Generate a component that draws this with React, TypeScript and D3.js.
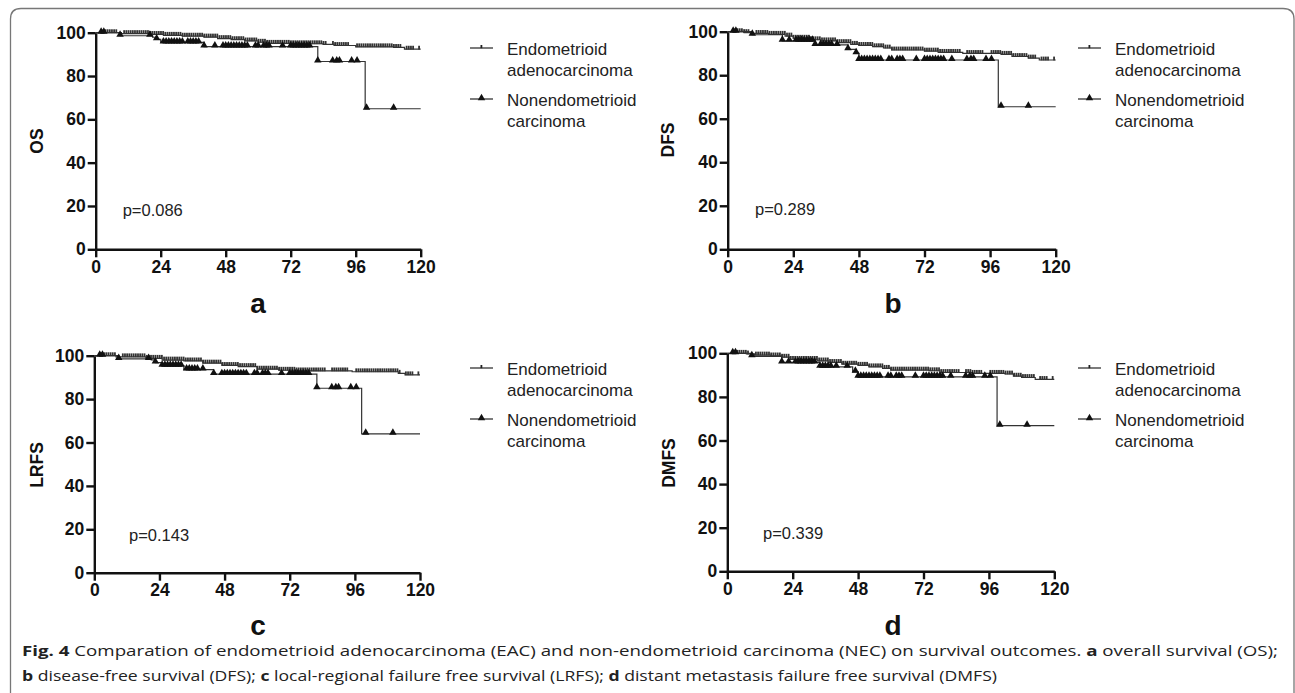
import React, { useEffect, useRef } from 'react';
import * as d3 from 'd3';

// ---------- data ----------
const xTicks = [0, 24, 48, 72, 96, 120];
const yTicks = [0, 20, 40, 60, 80, 100];
const eacLabel = ['Endometrioid', 'adenocarcinoma'];
const necLabel = ['Nonendometrioid', 'carcinoma'];

// Kaplan-Meier steps: [month, survival %]
const osEAC: [number, number][] = [[0, 100], [9.5, 99.6], [20, 99.2], [25, 98.8], [32, 98.4], [40, 98], [45, 97.3], [50, 96.8], [55, 96.2], [60, 95.6], [63, 95.1], [72, 94.9], [84, 94.6], [88, 94.1], [96, 93.5], [110, 93.2], [114, 92.4]];
const osNEC: [number, number][] = [[0, 100], [9, 98.6], [21, 97.9], [22.5, 96.9], [24, 95.5], [40, 93.6], [82, 86.7], [99.5, 64.9]];
const dfsEAC: [number, number][] = [[0, 100], [6, 99.6], [9, 99.2], [15, 98.8], [21, 98], [24, 97], [30, 96.3], [34, 95.8], [40, 95], [45, 94.2], [48, 93.7], [53, 93.1], [57, 92.5], [60, 91.6], [72, 91.1], [77, 90.5], [86, 90], [100, 89.6], [104, 88.6], [110, 87.9], [114, 87]];
const dfsNEC: [number, number][] = [[0, 100], [9, 98.6], [20, 95.8], [32, 93.9], [44, 91.9], [47, 90.1], [48, 87], [99, 65.5]];
const lrfsEAC: [number, number][] = [[0, 100], [8, 99.5], [19, 98.8], [25, 98], [33, 97.6], [40, 96.6], [47, 95.5], [53, 95], [60, 93.8], [68, 93.3], [74, 93], [95, 92.6], [112, 91.9], [114.5, 91.2]];
const lrfsNEC: [number, number][] = [[0, 100], [9, 98.5], [21, 98.1], [22.5, 96.8], [25, 95.4], [33, 93.6], [44, 91.5], [82, 85], [98.5, 64]];
const dmfsEAC: [number, number][] = [[0, 100], [7, 99.7], [10, 99.2], [16, 98.8], [20, 98.2], [23, 97.2], [33, 96.5], [37, 95.8], [42, 95], [48, 94.5], [52, 93.8], [57, 93.1], [60, 92.3], [74, 92], [78, 91.2], [90, 90.8], [102, 90.5], [105, 89.5], [108, 88.9], [113, 88]];
const dmfsNEC: [number, number][] = [[0, 100], [9, 98.6], [20, 95.8], [34, 93.8], [46, 91.5], [48, 89.2], [99, 66.8]];

// censoring times (months)
const eacCensor = [2, 2.8, 3.6, 4.4, 5.2, 6, 6.8, 7.6, 10.5, 11.3, 12.1, 12.9, 13.7, 14.5, 15.3, 16.1, 16.9, 17.7, 18.5, 19.3, 20.1, 20.9, 21.7, 22.5, 23.3, 24.1, 24.9, 25.7, 26.5, 27.3, 28.1, 28.9, 29.7, 30.5, 31.3, 32.1, 32.9, 33.7, 34.5, 35.3, 36.1, 36.9, 37.7, 38.5, 39.3, 40.1, 40.9, 41.7, 42.5, 43.3, 44.1, 44.9, 45.7, 46.5, 47.3, 48.1, 48.9, 49.7, 50.5, 51.3, 52.1, 52.9, 53.7, 54.5, 55.3, 56.1, 56.9, 57.7, 58.5, 59.3, 60.1, 60.9, 61.7, 62.5, 63.3, 64.1, 64.9, 65.7, 66.5, 67.3, 68.1, 68.9, 69.7, 70.5, 71.3, 72.1, 72.9, 73.7, 74.5, 75.3, 76.1, 76.9, 77.7, 78.5, 79.3, 80.1, 80.9, 81.7, 82.5, 83.3, 84.1, 84.9, 87.6, 88.4, 89.2, 90, 90.8, 91.6, 92.4, 93.2, 96.5, 97.3, 98.1, 98.9, 99.7, 100.5, 101.3, 102.1, 102.9, 103.7, 104.5, 105.3, 106.1, 106.9, 107.7, 108.5, 109.3, 110.1, 110.9, 111.7, 112.5, 114.8, 115.6, 116.4, 117.2, 119.4];
const necCensor = [2, 3, 9, 20, 22.5, 25, 26, 27, 28, 29, 30, 31, 32, 34, 35, 36, 37, 38, 40, 44, 47, 48, 49, 50, 51, 52, 53, 54, 55, 56, 59, 60, 62, 63, 64, 69, 72, 73, 74, 75, 76, 77, 78, 79, 82, 87.5, 89, 90, 94.5, 96.5, 100, 110];

const panelIds = ['a', 'b', 'c', 'd'];
const yTitles = ['OS', 'DFS', 'LRFS', 'DMFS'];
const pValues = ['p=0.086', 'p=0.289', 'p=0.143', 'p=0.339'];
const eacSeries = [osEAC, dfsEAC, lrfsEAC, dmfsEAC];
const necSeries = [osNEC, dfsNEC, lrfsNEC, dmfsNEC];

// ---------- layout ----------
const layout = [
  { x0: 95.7, x1: 420.7, yTop: 32.7, yBot: 249.3, titleX: 37, titleY: 141, pX: 122.7, pY: 216, legX: 470, legY: 48, labX: 258, labY: 313 },
  { x0: 727.7, x1: 1055.7, yTop: 31.7, yBot: 249.3, titleX: 668, titleY: 140, pX: 755, pY: 215, legX: 1078, legY: 48, labX: 893, labY: 313 },
  { x0: 94.3, x1: 420, yTop: 355.7, yBot: 572.7, titleX: 37, titleY: 465, pX: 129, pY: 540.7, legX: 470, legY: 368, labX: 258, labY: 635 },
  { x0: 727.3, x1: 1054.3, yTop: 353.3, yBot: 571.3, titleX: 669, titleY: 463, pX: 763, pY: 539, legX: 1078, legY: 368, labX: 893, labY: 635 },
];

const W = 1295;
const H = 693;
const FONT = "'Liberation Sans', Arial, Helvetica, sans-serif";

function stepValue(steps: [number, number][], t: number) {
  let v = steps[0][1];
  for (const [tt, s] of steps) {
    if (tt <= t) v = s;
  }
  return v;
}

export default function App() {
  const ref = useRef<SVGSVGElement>(null);

  useEffect(() => {
    const svg = d3.select(ref.current);
    svg.selectAll('*').remove();

    // frame
    svg.append('path')
      .attr('d', `M10.5,${H} V19 Q10.5,8.5 21,8.5 H1283 Q1294,8.5 1294,19 V${H}`)
      .attr('fill', 'none')
      .attr('stroke', '#777')
      .attr('stroke-width', 1.3);

    layout.forEach((L, i) => {
      const g = svg.append('g');
      const x = d3.scaleLinear().domain([0, 120]).range([L.x0, L.x1]);
      const y = d3.scaleLinear().domain([0, 100]).range([L.yBot, L.yTop]);

      // axes
      const xa = g.append('g').attr('transform', `translate(0,${L.yBot})`)
        .call(d3.axisBottom(x).tickValues(xTicks).tickSize(8).tickSizeOuter(0).tickPadding(3));
      const ya = g.append('g').attr('transform', `translate(${L.x0},0)`)
        .call(d3.axisLeft(y).tickValues(yTicks).tickSize(8).tickSizeOuter(0).tickPadding(2));
      [xa, ya].forEach((a) => {
        a.select('.domain').attr('stroke', '#111').attr('stroke-width', 2.4);
        a.selectAll('.tick line').attr('stroke', '#111').attr('stroke-width', 2.4);
        a.selectAll('.tick text')
          .attr('fill', '#111')
          .style('font-family', FONT)
          .style('font-weight', 'bold')
          .style('font-size', '17.5px');
      });

      // y title
      g.append('text')
        .attr('transform', `translate(${L.titleX},${L.titleY}) rotate(-90)`)
        .attr('text-anchor', 'middle')
        .attr('dominant-baseline', 'central')
        .style('font-family', FONT).style('font-weight', 'bold').style('font-size', '17.5px')
        .attr('fill', '#111')
        .text(yTitles[i]);

      // curves
      const line = d3.line<[number, number]>()
        .x((d) => x(d[0])).y((d) => y(d[1]))
        .curve(d3.curveStepAfter);
      const eac = eacSeries[i];
      const nec = necSeries[i];
      const eacFull: [number, number][] = [...eac, [120, eac[eac.length - 1][1]]];
      const necFull: [number, number][] = [...nec, [120, nec[nec.length - 1][1]]];

      g.append('path').attr('d', line(necFull)).attr('fill', 'none').attr('stroke', '#333').attr('stroke-width', 1.2);
      g.append('path').attr('d', line(eacFull)).attr('fill', 'none').attr('stroke', '#333').attr('stroke-width', 1.2);

      // censor marks EAC
      g.append('g').selectAll('rect').data(eacCensor).join('rect')
        .attr('x', (t) => x(t) - 0.9)
        .attr('y', (t) => y(stepValue(eac, t)) - 3.4)
        .attr('width', 1.8)
        .attr('height', 3.8)
        .attr('fill', '#333');

      // censor marks NEC
      const tri = d3.symbol().type(d3.symbolTriangle).size(24);
      g.append('g').selectAll('path').data(necCensor).join('path')
        .attr('d', tri() as string)
        .attr('transform', (t) => `translate(${x(t)},${y(stepValue(nec, t)) - 1.2})`)
        .attr('fill', '#111');

      // p value
      g.append('text')
        .attr('x', L.pX).attr('y', L.pY)
        .style('font-family', FONT).style('font-size', '16.5px')
        .attr('fill', '#222')
        .text(pValues[i]);

      // legend
      const lg = g.append('g');
      const rows = [
        { label: eacLabel, kind: 'eac', ly: L.legY },
        { label: necLabel, kind: 'nec', ly: L.legY + 51 },
      ];
      rows.forEach((r) => {
        lg.append('line').attr('x1', L.legX).attr('x2', L.legX + 23)
          .attr('y1', r.ly).attr('y2', r.ly).attr('stroke', '#333').attr('stroke-width', 1.3);
        if (r.kind === 'eac') {
          lg.append('rect').attr('x', L.legX + 10.5).attr('y', r.ly - 3).attr('width', 1.8).attr('height', 3.2).attr('fill', '#222');
        } else {
          lg.append('path').attr('d', tri() as string)
            .attr('transform', `translate(${L.legX + 11.5},${r.ly - 1})`).attr('fill', '#111');
        }
        r.label.forEach((s, k) => {
          lg.append('text')
            .attr('x', L.legX + 37).attr('y', r.ly + 6.5 + k * 21)
            .style('font-family', FONT).style('font-size', '17px')
            .attr('fill', '#222')
            .text(s);
        });
      });

      // panel label
      g.append('text')
        .attr('x', L.labX).attr('y', L.labY)
        .attr('text-anchor', 'middle')
        .style('font-family', FONT).style('font-weight', 'bold').style('font-size', '28px')
        .attr('fill', '#111')
        .text(panelIds[i]);
    });

    // caption
    const cap1 = svg.append('text')
      .attr('x', 22).attr('y', 656)
      .attr('textLength', 1256).attr('lengthAdjust', 'spacingAndGlyphs')
      .style('font-family', "'Open Sans', sans-serif").style('font-size', '15px')
      .attr('fill', '#222');
    cap1.append('tspan').style('font-weight', 'bold').text('Fig. 4');
    cap1.append('tspan').text('  Comparation of endometrioid adenocarcinoma (EAC) and non-endometrioid carcinoma (NEC) on survival outcomes. ');
    cap1.append('tspan').style('font-weight', 'bold').text('a');
    cap1.append('tspan').text(' overall survival (OS);');

    const cap2 = svg.append('text')
      .attr('x', 22).attr('y', 681)
      .attr('textLength', 975).attr('lengthAdjust', 'spacingAndGlyphs')
      .style('font-family', "'Open Sans', sans-serif").style('font-size', '15px')
      .attr('fill', '#222');
    cap2.append('tspan').style('font-weight', 'bold').text('b');
    cap2.append('tspan').text(' disease-free survival (DFS); ');
    cap2.append('tspan').style('font-weight', 'bold').text('c');
    cap2.append('tspan').text(' local-regional failure free survival (LRFS); ');
    cap2.append('tspan').style('font-weight', 'bold').text('d');
    cap2.append('tspan').text(' distant metastasis failure free survival (DMFS)');
  }, []);

  return (
    <svg
      ref={ref}
      width={W}
      height={H}
      style={{ position: 'absolute', left: 0, top: 0, background: '#fff' }}
    />
  );
}
